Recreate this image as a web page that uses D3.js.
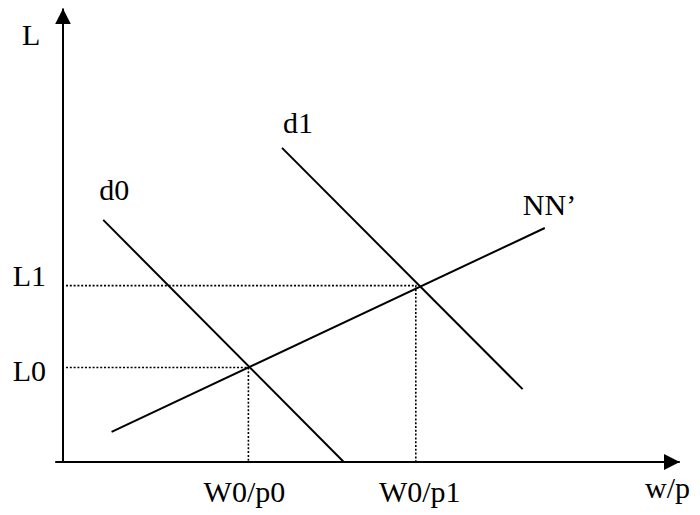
<!DOCTYPE html>
<html>
<head>
<meta charset="utf-8">
<script src="https://cdn.jsdelivr.net/npm/d3@7"></script>
<style>
body{margin:0;background:#fff;}
</style>
</head>
<body>
<svg id="chart" width="700" height="515"></svg>
<script>
// equilibrium values (chart units 0-100)
var wageLabels = ["W0/p0", "W0/p1"];
var wages = [30.9, 58.8];
var empLabels = ["L0", "L1"];
var employment = [21.0, 39.2];
// curves, two end points each
var d0 = [[6.7, 53.8], [46.8, 0]];
var d1 = [[36.5, 69.8], [76.6, 16.2]];
var nn = [[8.1, 6.7], [80.3, 52.0]];

var svg = d3.select("#chart")
	.attr("font-family", "'Liberation Serif', 'Times New Roman', 'DejaVu Serif', serif")
	.attr("font-size", 30);
var x = d3.scaleLinear().domain([0, 100]).range([63, 663]);
var y = d3.scaleLinear().domain([0, 100]).range([462, 12]);
var line = d3.line().x(d => x(d[0])).y(d => y(d[1]));

// arrow heads
var defs = svg.append("defs");
defs.append("marker")
	.attr("id", "arrow")
	.attr("viewBox", "0 0 16 16")
	.attr("refX", 16).attr("refY", 8)
	.attr("markerWidth", 16).attr("markerHeight", 16)
	.attr("markerUnits", "userSpaceOnUse")
	.attr("orient", "auto")
	.append("path")
	.attr("d", "M0,0L16,8L0,16Z")
	.attr("fill", "#000");

// dotted guides
for (var i = 0; i < wages.length; i++) {
	svg.append("path")
		.attr("d", line([[0.5, employment[i]], [wages[i], employment[i]], [wages[i], 0]]))
		.attr("fill", "none")
		.attr("stroke", "#000")
		.attr("stroke-width", 1.6)
		.attr("stroke-dasharray", "2,1.8");
}

// axes
svg.append("path")
	.attr("d", line([[-1.3, 0], [102.8, 0]]))
	.attr("stroke", "#000").attr("stroke-width", 2)
	.attr("marker-end", "url(#arrow)");
svg.append("path")
	.attr("d", line([[0, 0], [0, 100.8]]))
	.attr("stroke", "#000").attr("stroke-width", 2)
	.attr("marker-end", "url(#arrow)");

// curves
[d0, d1, nn].forEach(c => {
	svg.append("path")
		.attr("d", line(c))
		.attr("fill", "none")
		.attr("stroke", "#000")
		.attr("stroke-width", 2);
});

// curve labels
svg.append("text").attr("x", x(d0[0][0]) - 4).attr("y", y(d0[0][1]) - 20).text("d0");
svg.append("text").attr("x", x(d1[0][0]) + 1).attr("y", y(d1[0][1]) - 15).text("d1");
svg.append("text").attr("x", x(nn[1][0]) - 22).attr("y", y(nn[1][1]) - 13).text("NN\u2019");

// axis labels
svg.append("text").attr("x", x(0) - 41).attr("y", 45).text("L");
svg.append("text").attr("x", 645).attr("y", y(0) + 36).text("w/p");

svg.selectAll(".ylab")
	.data(employment)
	.enter()
	.append("text")
	.attr("class", "ylab")
	.attr("text-anchor", "end")
	.attr("x", x(0) - 17)
	.attr("y", (d, i) => y(d) + (i === 0 ? 13 : 0))
	.text((d, i) => empLabels[i]);

svg.selectAll(".xlab")
	.data(wages)
	.enter()
	.append("text")
	.attr("class", "xlab")
	.attr("text-anchor", "middle")
	.attr("x", (d, i) => x(d) + (i === 0 ? -4 : 4))
	.attr("y", y(0) + 40)
	.text((d, i) => wageLabels[i]);
</script>
</body>
</html>
